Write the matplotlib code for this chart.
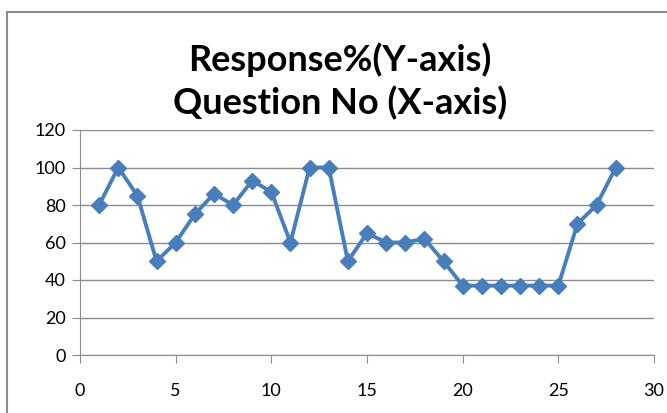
import matplotlib.pyplot as plt
from matplotlib.patches import Rectangle

# 数据
question_no = list(range(1, 29))
response = [80, 100, 85, 50, 60, 75, 86, 80, 93, 87, 60, 100, 100, 50,
            65, 60, 60, 62, 50, 37, 37, 37, 37, 37, 37, 70, 80, 100]
x_ticks = [0, 5, 10, 15, 20, 25, 30]
y_ticks = [0, 20, 40, 60, 80, 100, 120]
title = 'Response%(Y-axis)\nQuestion No (X-axis)'

plt.rcParams['font.family'] = ['Lato', 'DejaVu Sans']

fig = plt.figure(figsize=(6.67, 4.13), dpi=100)
# 图表外框
fig.patches.append(Rectangle((7 / 667, -0.1), 1.0, 1.1 - 12 / 413, transform=fig.transFigure,
                             fill=False, edgecolor='#8c8c8c', linewidth=1.5))

ax = fig.add_axes([80 / 667, 1 - 355 / 413, 574 / 667, 225 / 413])
ax.plot(question_no, response, color='#4a7ebb', linewidth=2.8, marker='D',
        markersize=8.5, markeredgecolor='#4a7ebb', zorder=3)

ax.set_xlim(0, 30)
ax.set_ylim(0, 120)
ax.set_xticks(x_ticks)
ax.set_yticks(y_ticks)
ax.yaxis.grid(True, color='#8c8c8c', linewidth=1)
ax.set_axisbelow(True)
for side in ['top', 'right']:
    ax.spines[side].set_visible(False)
ax.spines['left'].set_color('#8c8c8c')
ax.spines['bottom'].set_color('#8c8c8c')
ax.tick_params(axis='x', length=6, color='#8c8c8c', labelsize=13, pad=14)
ax.tick_params(axis='y', length=6, color='#8c8c8c', labelsize=13, pad=4)

fig.text(0.51, 1 - 81 / 413, title, ha='center', va='center', fontsize=26,
         fontweight='bold', linespacing=1.3)

fig.savefig('out.png', dpi=100)
